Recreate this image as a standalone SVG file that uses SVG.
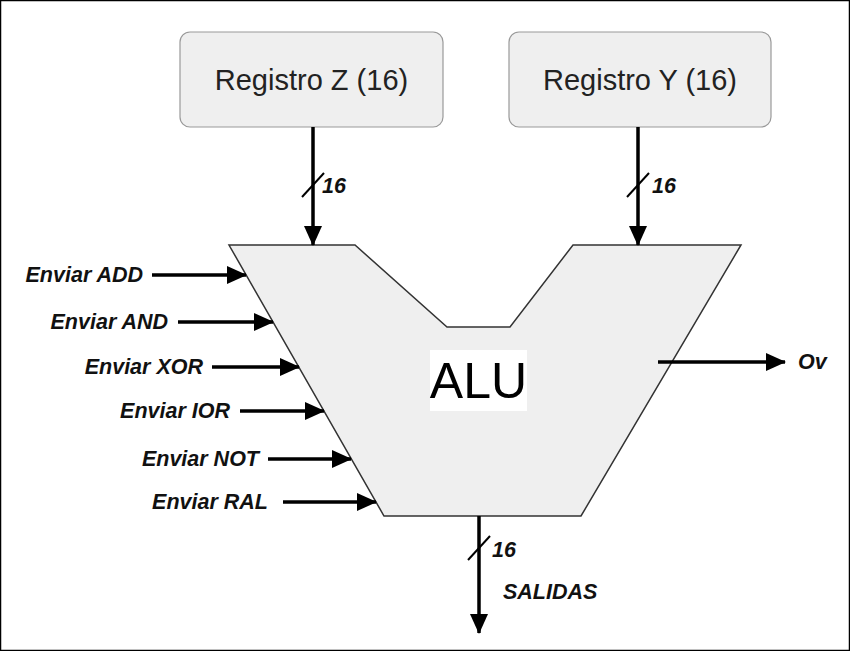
<svg xmlns="http://www.w3.org/2000/svg" width="850" height="651" viewBox="0 0 850 651">
<defs>
<marker id="ah" markerWidth="20" markerHeight="18" refX="19" refY="9" orient="auto" markerUnits="userSpaceOnUse" viewBox="0 0 20 18"><path d="M0,0 L20,9 L0,18 z" fill="#000"/></marker>
<style>
.box{fill:#efefef;stroke:#999;stroke-width:1.2}
.bt{font-family:"Liberation Sans",Arial,sans-serif;font-size:29px;fill:#222;text-anchor:middle}
.lb{font-family:"Liberation Sans",Arial,sans-serif;font-size:21.5px;font-weight:bold;font-style:italic;fill:#111}
.w{stroke:#000;stroke-width:2;fill:none}
.ar{stroke:#000;stroke-width:3.5;fill:none;marker-end:url(#ah)}
</style>
</defs>
<rect x="0.5" y="0.5" width="849" height="650" fill="#fff" stroke="#000" stroke-width="1.5"/>
<g id="regZ"><rect class="box" x="180" y="32" width="263" height="95" rx="10"/><text class="bt" x="311.5" y="90">Registro Z (16)</text></g>
<g id="regY"><rect class="box" x="509" y="32" width="262" height="95" rx="10"/><text class="bt" x="640" y="90">Registro Y (16)</text></g>
<g id="alu"><polygon points="229,245 355,245 447,327 510,327 573,245 741,245 581,516 384,516" fill="#efefef" stroke="#333" stroke-width="1.5"/>
<rect x="430" y="350" width="97" height="61" fill="#fff"/>
<text x="478.5" y="398" font-family="Liberation Sans,Arial,sans-serif" font-size="50" text-anchor="middle" fill="#000">ALU</text></g>
<g id="connectors">
<path class="ar" d="M313,127 V245"/><path class="w" d="M302,197 L324,173"/><text class="lb" x="322" y="193">16</text>
<path class="ar" d="M638,127 V245"/><path class="w" d="M627,197 L649,173"/><text class="lb" x="652" y="193">16</text>
<path class="ar" d="M479,516 V633"/><path class="w" d="M468,560 L490,536"/><text class="lb" x="492" y="557">16</text>
<text class="lb" x="503" y="599">SALIDAS</text>
<path class="ar" d="M152,275 H246"/><text class="lb" x="143" y="282" text-anchor="end">Enviar ADD</text>
<path class="ar" d="M178,322 H273"/><text class="lb" x="168" y="329" text-anchor="end">Enviar AND</text>
<path class="ar" d="M212,367 H299"/><text class="lb" x="203" y="374" text-anchor="end">Enviar XOR</text>
<path class="ar" d="M240,411 H324"/><text class="lb" x="230" y="418" text-anchor="end">Enviar IOR</text>
<path class="ar" d="M268,459 H351"/><text class="lb" x="259" y="466" text-anchor="end">Enviar NOT</text>
<path class="ar" d="M283,502 H376"/><text class="lb" x="268" y="509" text-anchor="end">Enviar RAL</text>
<path class="ar" d="M658,362 H785"/><text class="lb" x="798" y="369">Ov</text>
</g>
</svg>
